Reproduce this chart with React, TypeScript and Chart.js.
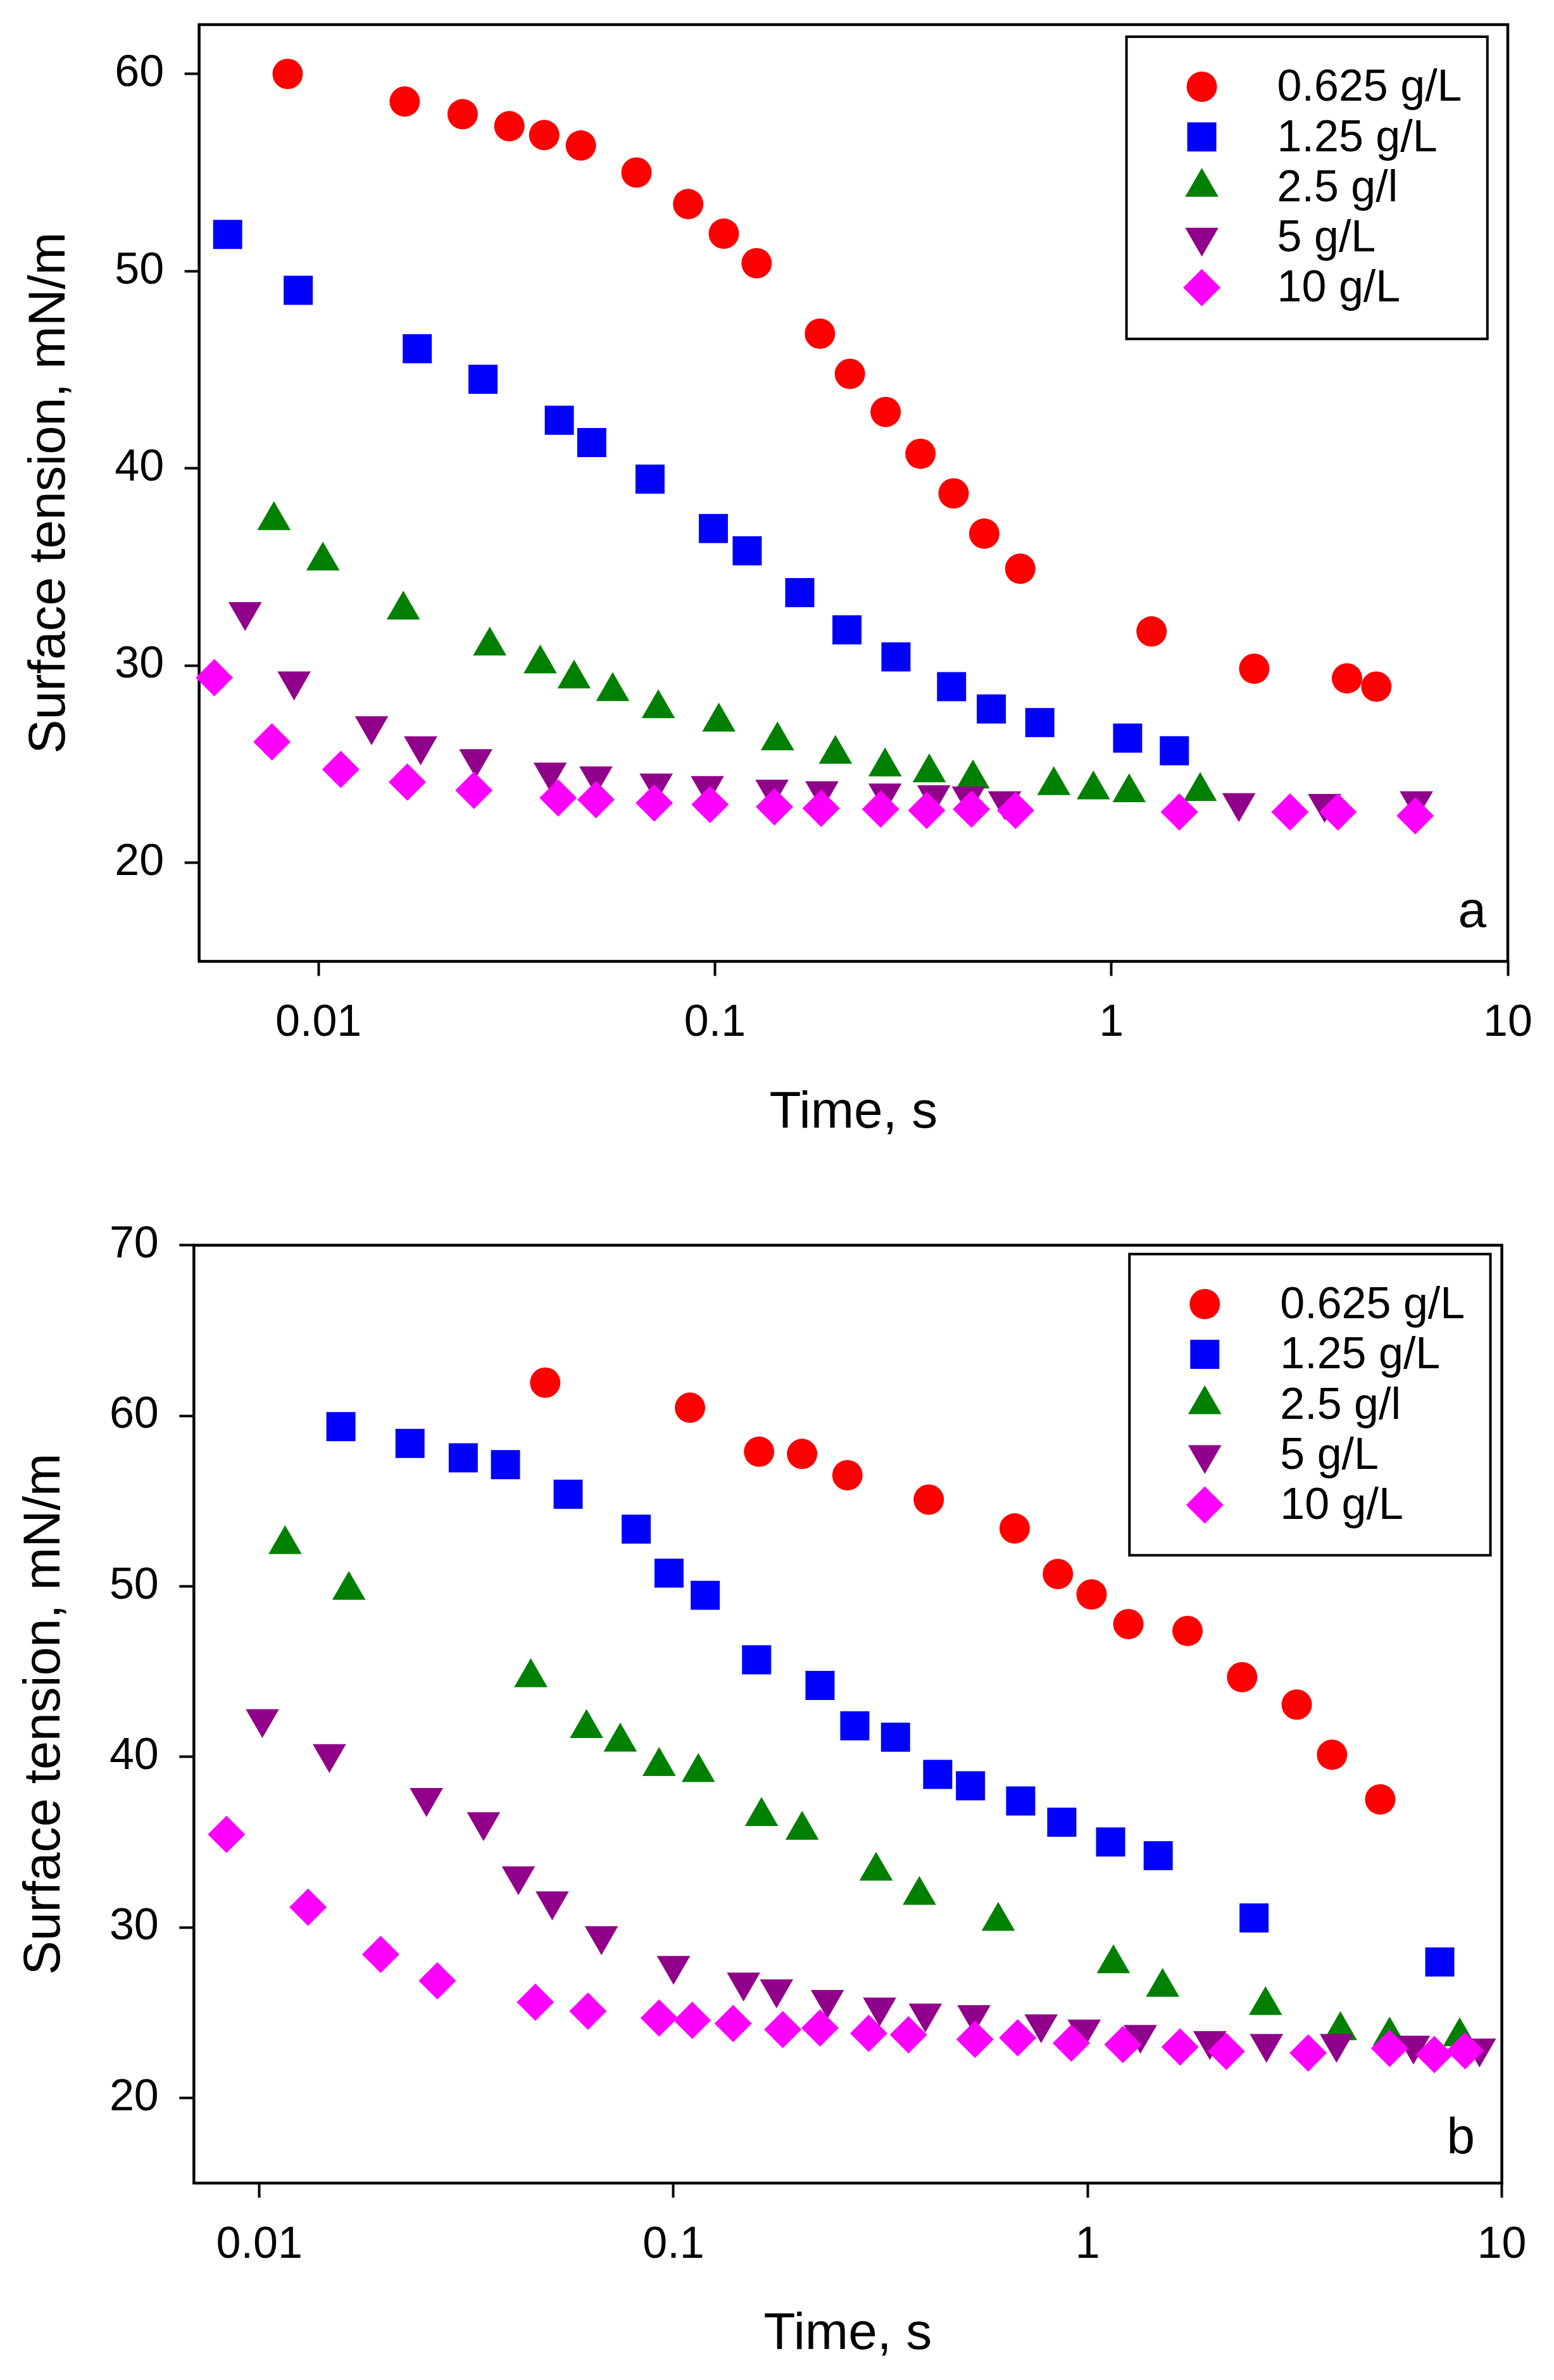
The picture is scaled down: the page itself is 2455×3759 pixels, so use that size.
import React, { useEffect, useRef } from "react";
import { Chart, registerables } from "chart.js";

Chart.register(...registerables);

const FONT = '"Liberation Sans", Arial, Helvetica, sans-serif';

// ---------- shared ----------
const SERIES_LABELS = ["0.625 g/L", "1.25 g/L", "2.5 g/l", "5 g/L", "10 g/L"];
const SERIES_COLORS = ["#FF0000", "#0000FF", "#008000", "#91008A", "#FF00FF"];
const SERIES_STYLES = ["circle", "rect", "triangle", "triangle", "rectRot"];
const SERIES_ROTATION = [0, 0, 0, 180, 0];
const SERIES_RADIUS = [24, 32.5, 30.4, 30.4, 29.5];
const X_TICKS = [0.01, 0.1, 1, 10];
const X_TITLE = "Time, s";
const Y_TITLE = "Surface tension, mN/m";

// ---------- panel a ----------
const A_Y_TICKS = [20, 30, 40, 50, 60];
const A_RED_X = [0.00836, 0.0165, 0.0231, 0.0303, 0.0371, 0.0459, 0.0634, 0.0856, 0.1053, 0.1274, 0.184, 0.219, 0.2695, 0.33, 0.4, 0.478, 0.589, 1.263, 2.293, 3.93, 4.66];
const A_RED_Y = [60.0, 58.6, 57.96, 57.35, 56.9, 56.37, 55.0, 53.4, 51.9, 50.4, 46.83, 44.79, 42.86, 40.74, 38.73, 36.69, 34.91, 31.73, 29.84, 29.35, 28.93];
const A_BLUE_X = [0.0059, 0.00889, 0.01775, 0.026, 0.0405, 0.0489, 0.0686, 0.0991, 0.1206, 0.1637, 0.2153, 0.2862, 0.3953, 0.498, 0.66, 1.099, 1.442];
const A_BLUE_Y = [51.86, 49.03, 46.07, 44.52, 42.44, 41.31, 39.45, 36.95, 35.82, 33.7, 31.81, 30.44, 28.93, 27.8, 27.11, 26.32, 25.68];
const A_GREEN_X = [0.00772, 0.01026, 0.01637, 0.02704, 0.03625, 0.04413, 0.05523, 0.07198, 0.1023, 0.1438, 0.2014, 0.2686, 0.3473, 0.4477, 0.716, 0.901, 1.109, 1.675];
const A_GREEN_Y = [37.36, 35.31, 32.82, 31.0, 30.09, 29.33, 28.69, 27.82, 27.14, 26.19, 25.51, 24.87, 24.57, 24.26, 23.92, 23.7, 23.56, 23.62];
const A_PURPLE_X = [0.00653, 0.00868, 0.01361, 0.0181, 0.02494, 0.0384, 0.0501, 0.0711, 0.0957, 0.1393, 0.1862, 0.2686, 0.3565, 0.436, 0.538, 2.097, 3.45, 5.88];
const A_PURPLE_Y = [32.73, 29.21, 26.94, 25.92, 25.27, 24.59, 24.4, 24.04, 23.91, 23.72, 23.64, 23.53, 23.44, 23.38, 23.14, 23.04, 23.0, 23.14];
const A_MAGENTA_X = [0.00546, 0.00763, 0.01138, 0.01675, 0.02466, 0.04023, 0.0501, 0.0703, 0.0972, 0.1413, 0.1853, 0.2618, 0.342, 0.4436, 0.5733, 1.484, 2.822, 3.73, 5.84];
const A_MAGENTA_Y = [29.39, 26.13, 24.73, 24.09, 23.67, 23.29, 23.2, 23.03, 22.95, 22.84, 22.76, 22.72, 22.65, 22.72, 22.65, 22.57, 22.57, 22.57, 22.38];

// ---------- panel b ----------
const B_Y_TICKS = [20, 30, 40, 50, 60, 70];
const B_RED_X = [0.049, 0.1096, 0.1609, 0.2044, 0.263, 0.4133, 0.6664, 0.8473, 1.022, 1.254, 1.742, 2.36, 3.197, 3.89, 5.085];
const B_RED_Y = [61.94, 60.47, 57.89, 57.76, 56.51, 55.08, 53.39, 50.72, 49.52, 47.78, 47.38, 44.67, 43.06, 40.12, 37.5];
const B_BLUE_X = [0.01574, 0.02311, 0.03107, 0.03929, 0.05566, 0.08128, 0.09754, 0.1193, 0.1587, 0.2258, 0.274, 0.3436, 0.4344, 0.5212, 0.6889, 0.866, 1.136, 1.48, 2.522, 7.082];
const B_BLUE_Y = [59.36, 58.38, 57.53, 57.13, 55.4, 53.35, 50.77, 49.47, 45.69, 44.18, 41.82, 41.15, 38.97, 38.3, 37.41, 36.16, 35.0, 34.2, 30.55, 27.97];
const B_GREEN_X = [0.01154, 0.01645, 0.04523, 0.06166, 0.07437, 0.09231, 0.1148, 0.1631, 0.2044, 0.3084, 0.3923, 0.6083, 1.154, 1.517, 2.688, 4.075, 5.358, 7.91];
const B_GREEN_Y = [52.45, 49.77, 44.65, 41.67, 40.87, 39.44, 39.09, 36.51, 35.7, 33.3, 31.88, 30.36, 27.87, 26.49, 25.42, 23.95, 23.64, 23.59];
const B_PURPLE_X = [0.01017, 0.01476, 0.02532, 0.03478, 0.04222, 0.05096, 0.06698, 0.1, 0.1476, 0.1773, 0.2353, 0.3145, 0.4055, 0.5314, 0.7717, 0.9808, 1.34, 1.972, 2.702, 3.988, 6.117, 8.83];
const B_PURPLE_Y = [42.23, 40.18, 37.6, 36.18, 33.01, 31.54, 29.5, 27.76, 26.78, 26.38, 25.76, 25.31, 24.96, 24.87, 24.33, 24.02, 23.71, 23.35, 23.18, 23.18, 23.08, 22.91];
const B_MAGENTA_X = [0.00833, 0.01311, 0.01963, 0.0269, 0.04639, 0.06216, 0.09231, 0.111, 0.1393, 0.1836, 0.2258, 0.296, 0.3692, 0.5343, 0.6775, 0.9129, 1.216, 1.671, 2.161, 3.407, 5.358, 6.87, 8.15];
const B_MAGENTA_Y = [35.45, 31.18, 28.41, 26.86, 25.61, 25.08, 24.68, 24.54, 24.36, 24.0, 24.1, 23.78, 23.7, 23.43, 23.52, 23.21, 23.12, 22.98, 22.72, 22.63, 22.9, 22.54, 22.76];

type Panel = {
  letter: string;
  height: number;
  area: { left: number; top: number; right: number; bottom: number };
  xMin: number;
  xMax: number;
  yMin: number;
  yMax: number;
  yTicks: number[];
  xs: number[][];
  ys: number[][];
  legendBox: { x: number; y: number; w: number; h: number };
  letterPos: { x: number; y: number };
  yTitlePad: number;
};

const WIDTH = 2455;

const PANELS: Panel[] = [
  {
    letter: "a",
    height: 1880,
    area: { left: 314.6, top: 38.9, right: 2382, bottom: 1518.4 },
    xMin: 0.005,
    xMax: 10,
    yMin: 15,
    yMax: 62.5,
    yTicks: A_Y_TICKS,
    xs: [A_RED_X, A_BLUE_X, A_GREEN_X, A_PURPLE_X, A_MAGENTA_X],
    ys: [A_RED_Y, A_BLUE_Y, A_GREEN_Y, A_PURPLE_Y, A_MAGENTA_Y],
    legendBox: { x: 1779.6, y: 58, w: 570.2, h: 477.3 },
    letterPos: { x: 2348, y: 1464 },
    yTitlePad: 30.6,
  },
  {
    letter: "b",
    height: 1879,
    area: { left: 306.3, top: 86.7, right: 2372.6, bottom: 1568 },
    xMin: 0.00695,
    xMax: 10,
    yMin: 15,
    yMax: 70,
    yTicks: B_Y_TICKS,
    xs: [B_RED_X, B_BLUE_X, B_GREEN_X, B_PURPLE_X, B_MAGENTA_X],
    ys: [B_RED_Y, B_BLUE_Y, B_GREEN_Y, B_PURPLE_Y, B_MAGENTA_Y],
    legendBox: { x: 1784.3, y: 100.7, w: 570.3, h: 475.7 },
    letterPos: { x: 2330, y: 1521 },
    yTitlePad: 22.7,
  },
];

function drawSymbol(
  ctx: CanvasRenderingContext2D,
  style: string,
  rotationDeg: number,
  r: number,
  x: number,
  y: number,
  color: string
) {
  ctx.save();
  ctx.fillStyle = color;
  ctx.beginPath();
  if (style === "circle") {
    ctx.arc(x, y, r, 0, Math.PI * 2);
  } else if (style === "rect") {
    const s = Math.SQRT1_2 * r;
    ctx.rect(x - s, y - s, 2 * s, 2 * s);
  } else if (style === "triangle") {
    let rad = (rotationDeg * Math.PI) / 180;
    ctx.moveTo(x + Math.sin(rad) * r, y - Math.cos(rad) * r);
    rad += (2 * Math.PI) / 3;
    ctx.lineTo(x + Math.sin(rad) * r, y - Math.cos(rad) * r);
    rad += (2 * Math.PI) / 3;
    ctx.lineTo(x + Math.sin(rad) * r, y - Math.cos(rad) * r);
    ctx.closePath();
  } else if (style === "rectRot") {
    ctx.moveTo(x - r, y);
    ctx.lineTo(x, y - r);
    ctx.lineTo(x + r, y);
    ctx.lineTo(x, y + r);
    ctx.closePath();
  }
  ctx.fill();
  ctx.restore();
}

const decorPlugin = {
  id: "panelDecor",
  beforeDatasetsDraw(chart: any, _args: any, opts: any) {
    const { ctx, chartArea } = chart;
    ctx.save();
    ctx.strokeStyle = "#000";
    ctx.lineWidth = 4.5;
    ctx.strokeRect(
      chartArea.left,
      chartArea.top,
      chartArea.right - chartArea.left,
      chartArea.bottom - chartArea.top
    );
    ctx.restore();
  },
  afterDatasetsDraw(chart: any, _args: any, opts: any) {
    const { ctx } = chart;
    const L = opts.legendBox;
    ctx.save();
    ctx.strokeStyle = "#000";
    ctx.lineWidth = 4;
    ctx.strokeRect(L.x, L.y, L.w, L.h);
    chart.data.datasets.forEach((ds: any, i: number) => {
      const cy = L.y + 79 + i * 79.3;
      const cx = L.x + 119;
      drawSymbol(ctx, ds.pointStyle, ds.pointRotation, ds.pointRadius, cx, cy, ds.backgroundColor);
      ctx.fillStyle = "#000";
      ctx.font = `70px ${FONT}`;
      ctx.textAlign = "left";
      ctx.textBaseline = "middle";
      ctx.fillText(ds.label, L.x + 238, cy + 3);
    });
    ctx.font = `80px ${FONT}`;
    ctx.textAlign = "right";
    ctx.textBaseline = "alphabetic";
    ctx.fillText(opts.letter, opts.letterPos.x, opts.letterPos.y);
    ctx.restore();
  },
};

function buildConfig(p: Panel): any {
  const datasets = SERIES_LABELS.map((label, i) => ({
    label,
    data: p.xs[i].map((x, j) => ({ x, y: p.ys[i][j] })),
    pointStyle: SERIES_STYLES[i],
    pointRotation: SERIES_ROTATION[i],
    pointRadius: SERIES_RADIUS[i],
    pointHoverRadius: SERIES_RADIUS[i],
    backgroundColor: SERIES_COLORS[i],
    borderColor: SERIES_COLORS[i],
    pointBorderWidth: 0,
    borderWidth: 0,
    showLine: false,
    clip: false,
    order: SERIES_LABELS.length - i,
  }));
  const xAxisHeight = p.height - p.area.bottom;
  return {
    type: "scatter",
    data: { datasets },
    plugins: [decorPlugin],
    options: {
      responsive: false,
      animation: false,
      devicePixelRatio: 1,
      events: [],
      layout: {
        autoPadding: false,
        padding: { left: 0, top: p.area.top, right: WIDTH - p.area.right, bottom: 0 },
      },
      plugins: {
        legend: { display: false },
        tooltip: { enabled: false },
        panelDecor: { legendBox: p.legendBox, letter: p.letter, letterPos: p.letterPos },
      },
      scales: {
        x: {
          type: "logarithmic",
          min: p.xMin,
          max: p.xMax,
          border: { display: false },
          grid: {
            display: true,
            drawOnChartArea: false,
            drawTicks: true,
            tickLength: 23,
            tickWidth: 4,
            tickColor: "#000",
          },
          afterBuildTicks: (s: any) => {
            s.ticks = X_TICKS.map((v) => ({ value: v }));
          },
          afterFit: (s: any) => {
            s.height = xAxisHeight;
            s.paddingLeft = 0;
            s.paddingRight = 0;
          },
          ticks: {
            autoSkip: false,
            maxRotation: 0,
            minRotation: 0,
            padding: 33.6,
            color: "#000",
            font: { family: FONT, size: 70 },
            callback: (v: any) => String(v),
          },
          title: {
            display: true,
            text: X_TITLE,
            color: "#000",
            font: { family: FONT, size: 82 },
            padding: { top: 0, bottom: xAxisHeight - 49.2 - 239.5 },
          },
        },
        y: {
          type: "linear",
          min: p.yMin,
          max: p.yMax,
          border: { display: false },
          grid: {
            display: true,
            drawOnChartArea: false,
            drawTicks: true,
            tickLength: 23,
            tickWidth: 4,
            tickColor: "#000",
          },
          afterBuildTicks: (s: any) => {
            s.ticks = p.yTicks.map((v) => ({ value: v }));
          },
          afterFit: (s: any) => {
            s.width = p.area.left;
            s.paddingTop = 0;
            s.paddingBottom = 0;
          },
          ticks: {
            autoSkip: false,
            padding: 32.5,
            color: "#000",
            font: { family: FONT, size: 70 },
            callback: (v: any) => String(v),
          },
          title: {
            display: true,
            text: Y_TITLE,
            color: "#000",
            font: { family: FONT, size: 81 },
            padding: { top: p.yTitlePad, bottom: 0 },
          },
        },
      },
    },
  };
}

function PanelChart({ panel, top }: { panel: Panel; top: number }) {
  const ref = useRef<HTMLCanvasElement | null>(null);
  useEffect(() => {
    if (!ref.current) return;
    const chart = new Chart(ref.current, buildConfig(panel));
    return () => chart.destroy();
  }, [panel]);
  return (
    <canvas
      ref={ref}
      width={WIDTH}
      height={panel.height}
      style={{ position: "absolute", left: 0, top, width: WIDTH, height: panel.height, display: "block" }}
    />
  );
}

export default function App() {
  return (
    <div
      style={{
        position: "absolute",
        left: 0,
        top: 0,
        width: WIDTH,
        height: 3759,
        background: "#fff",
        overflow: "hidden",
      }}
    >
      <PanelChart panel={PANELS[0]} top={0} />
      <PanelChart panel={PANELS[1]} top={1880} />
    </div>
  );
}
